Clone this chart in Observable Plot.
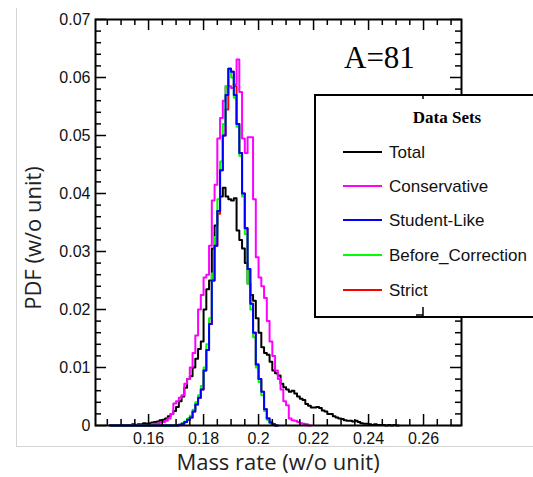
<!DOCTYPE html>
<html>
<head>
<meta charset="utf-8">
<script src="https://cdn.jsdelivr.net/npm/d3@7"></script>
<script src="https://cdn.jsdelivr.net/npm/@observablehq/plot@0.6"></script>
<style>
  body { margin: 0; background: #fff; overflow: hidden; }
  #wrap { position: relative; width: 533px; height: 477px; overflow: hidden; background: #fff; }
  #border { position: absolute; left: 16px; top: 8px; width: 520px; height: 438px;
            border-left: 1px solid #d4d4d4; border-bottom: 1px solid #d4d4d4; }
  #chart { position: absolute; left: 0; top: 0; }
</style>
</head>
<body>
<div id="wrap"><div id="border"></div><div id="chart"></div></div>
<script>
// ---- Data (bins of width 0.001 starting at 0.146) ----
const binStart = 0.146;
const binWidth = 0.001;

const total = [
  0.0001,0.0000,0.0001,0.0001,0.0001,0.0000,0.0001,0.0001,0.0002,0.0001,
  0.0002,0.0002,0.0004,0.0003,0.0004,0.0005,0.0006,0.0007,0.0009,0.0010,
  0.0012,0.0016,0.0020,0.0025,0.0032,0.0042,0.0050,0.0065,0.0080,0.0085,
  0.0100,0.0115,0.0132,0.0145,0.0200,0.0235,0.0250,0.0305,0.0345,0.0370,
  0.0395,0.0410,0.0395,0.0390,0.0388,0.0392,0.0336,0.0320,0.0305,0.0280,
  0.0245,0.0225,0.0215,0.0185,0.0160,0.0135,0.0125,0.0122,0.0110,0.0095,
  0.0090,0.0086,0.0072,0.0066,0.0062,0.0058,0.0060,0.0055,0.0050,0.0046,
  0.0044,0.0037,0.0034,0.0031,0.0031,0.0032,0.0030,0.0026,0.0024,0.0020,
  0.0020,0.0016,0.0014,0.0012,0.0011,0.0009,0.0008,0.0008,0.0007,0.0008,
  0.0006,0.0004,0.0003,0.0003,0.0002,0.0001,0.0002,0.0001,0.0001,0.0001,
  0.0000,0.0001,0.0000,0.0001,0.0000
];

const conservative = [
  0,0,0,0,0,0,0,0,0,0,
  0,0,0,0,0,0.0002,0.0003,0.0003,0.0005,0.0006,
  0.0008,0.0012,0.0020,0.0038,0.0042,0.0048,0.0052,0.0072,0.0080,0.0100,
  0.0125,0.0155,0.0200,0.0225,0.0255,0.0260,0.0310,0.0388,0.0415,0.0495,
  0.0530,0.0560,0.0585,0.0585,0.0582,0.0588,0.0631,0.0575,0.0495,0.0470,
  0.0497,0.0497,0.0390,0.0290,0.0255,0.0240,0.0220,0.0180,0.0145,0.0120,
  0.0095,0.0080,0.0062,0.0042,0.0035,0.0012,0.0009,0.0008,0.0006,0.0004,
  0.0003,0.0002,0
];

const studentLike = [
  0,0,0,0,0,0,0,0,0,0,
  0,0,0,0,0,0,0,0,0,0,
  0,0,0,0,0,0.0001,0.0003,0.0006,0.0010,0.0014,
  0.0024,0.0036,0.0048,0.0062,0.0095,0.0130,0.0175,0.0250,0.0310,0.0370,
  0.0440,0.0500,0.0570,0.0615,0.0610,0.0570,0.0520,0.0470,0.0400,0.0340,
  0.0270,0.0210,0.0160,0.0105,0.0080,0.0058,0.0028,0.0012,0.0005,0.0002,
  0
];

const beforeCorrection = [
  0,0,0,0,0,0,0,0,0,0,
  0,0,0,0,0,0,0,0,0,0,
  0,0,0,0,0.0001,0.0002,0.0004,0.0007,0.0012,0.0017,
  0.0027,0.0040,0.0052,0.0068,0.0100,0.0140,0.0185,0.0262,0.0325,0.0390,
  0.0455,0.0520,0.0585,0.0615,0.0600,0.0565,0.0515,0.0465,0.0395,0.0330,
  0.0245,0.0200,0.0152,0.0100,0.0075,0.0052,0.0025,0.0010,0.0004,0.0001,
  0
];

const strict = [
  0,0,0,0,0,0,0,0,0,0,
  0,0,0,0,0,0,0,0,0,0,
  0,0,0,0,0,0.0001,0.0003,0.0006,0.0010,0.0014,
  0.0024,0.0036,0.0048,0.0062,0.0095,0.0130,0.0175,0.0250,0.0310,0.0365,
  0.0440,0.0500,0.0545,0.0615,0.0610,0.0585,0.0520,0.0470,0.0400,0.0340,
  0.0270,0.0210,0.0160,0.0105,0.0080,0.0058,0.0028,0.0012,0.0005,0.0002,
  0
];

const seriesNames  = ["Total", "Conservative", "Student-Like", "Before_Correction", "Strict"];
const seriesColors = ["#000000", "#ff00ff", "#0000ff", "#00ff00", "#ff0000"];

const xTicks = [0.16, 0.18, 0.20, 0.22, 0.24, 0.26];
const xTickLabels = ["0.16", "0.18", "0.2", "0.22", "0.24", "0.26"];
const xMinorTicks = [0.145,0.15,0.155,0.165,0.17,0.175,0.185,0.19,0.195,0.205,0.21,0.215,0.225,0.23,0.235,0.245,0.25,0.255,0.265,0.27];
const yTicks = [0, 0.01, 0.02, 0.03, 0.04, 0.05, 0.06, 0.07];
const yTickLabels = ["0", "0.01", "0.02", "0.03", "0.04", "0.05", "0.06", "0.07"];
const yMinorTicks = [0.002,0.004,0.006,0.008,0.012,0.014,0.016,0.018,0.022,0.024,0.026,0.028,
  0.032,0.034,0.036,0.038,0.042,0.044,0.046,0.048,0.052,0.054,0.056,0.058,0.062,0.064,0.066,0.068];

const xLabel = "Mass rate (w/o unit)";
const yLabel = "PDF (w/o unit)";
const annotation = "A=81";
const legendTitle = "Data Sets";

// ---- Helpers ----
function steps(vals) {
  const pts = vals.map((v, i) => ({x: binStart + i * binWidth, y: v}));
  pts.push({x: binStart + vals.length * binWidth, y: vals[vals.length - 1]});
  return pts;
}

const W = 533, H = 477;
const mL = 95, mR = 72, mT = 19, mB = 52;
const plotW = W - mL - mR, plotH = H - mT - mB;
const majorLen = 11, minorLen = 6;

const lineOf = (vals, color) => Plot.line(steps(vals), {
  x: "x", y: "y", curve: "step-after", stroke: color, strokeWidth: 2
});

const chart = Plot.plot({
  width: W, height: H,
  marginLeft: mL, marginRight: mR, marginTop: mT, marginBottom: mB,
  x: {domain: [0.1407, 0.2738]},
  y: {domain: [0, 0.07]},
  style: {fontFamily: "'Liberation Sans', Arial, sans-serif", fontSize: "16px", color: "#000", background: "transparent", overflow: "hidden"},
  marks: [
    lineOf(total, seriesColors[0]),
    lineOf(conservative, seriesColors[1]),
    lineOf(strict, seriesColors[4]),
    lineOf(beforeCorrection, seriesColors[3]),
    lineOf(studentLike, seriesColors[2]),
    Plot.frame({stroke: "#000", strokeWidth: 2}),
    Plot.tickX(xTicks, {x: d => d, insetTop: plotH - majorLen, stroke: "#000", strokeWidth: 1.5}),
    Plot.tickX(xMinorTicks, {x: d => d, insetTop: plotH - minorLen, stroke: "#000", strokeWidth: 1.5}),
    Plot.tickX(xTicks, {x: d => d, insetBottom: plotH - majorLen, stroke: "#000", strokeWidth: 1.5}),
    Plot.tickX(xMinorTicks, {x: d => d, insetBottom: plotH - minorLen, stroke: "#000", strokeWidth: 1.5}),
    Plot.tickY(yTicks, {y: d => d, insetRight: plotW - majorLen, stroke: "#000", strokeWidth: 1.5}),
    Plot.tickY(yMinorTicks, {y: d => d, insetRight: plotW - minorLen, stroke: "#000", strokeWidth: 1.5}),
    Plot.tickY(yTicks, {y: d => d, insetLeft: plotW - majorLen, stroke: "#000", strokeWidth: 1.5}),
    Plot.tickY(yMinorTicks, {y: d => d, insetLeft: plotW - minorLen, stroke: "#000", strokeWidth: 1.5}),
    Plot.axisX(xTicks, {tickSize: 0, tickPadding: 7, label: null,
      tickFormat: d => xTickLabels[xTicks.indexOf(d)], fill: "#111"}),
    Plot.axisY(yTicks, {tickSize: 0, tickPadding: 5, label: null,
      tickFormat: d => yTickLabels[yTicks.indexOf(d)], fill: "#111"})
  ]
});

document.getElementById("chart").appendChild(chart);

// ---- Annotations, axis titles and legend ----
const svg = d3.select(chart);

svg.append("text")
  .attr("x", 278).attr("y", 470)
  .attr("text-anchor", "middle")
  .style("font-family", "'Open Sans', sans-serif").style("font-size", "22px").style("fill", "#222")
  .text(xLabel);

svg.append("text")
  .attr("transform", "translate(41,238) rotate(-90)")
  .attr("text-anchor", "middle")
  .style("font-family", "'Open Sans', sans-serif").style("font-size", "22px").style("fill", "#222")
  .text(yLabel);

svg.append("text")
  .attr("x", 344).attr("y", 68)
  .attr("text-anchor", "start")
  .style("font-family", "'Liberation Serif', 'Times New Roman', serif").style("font-size", "31px").style("fill", "#000")
  .text(annotation);

const lg = svg.append("g");
lg.append("rect")
  .attr("x", 315).attr("y", 95).attr("width", 218).attr("height", 222)
  .attr("fill", "#fff").attr("stroke", "none");
lg.append("path")
  .attr("d", "M533,95 H315 V317 H533")
  .attr("fill", "none").attr("stroke", "#000").attr("stroke-width", 2);
lg.append("line").attr("x1", 423).attr("x2", 423).attr("y1", 96).attr("y2", 99).attr("stroke", "#000").attr("stroke-width", 1.5);
lg.append("line").attr("x1", 423).attr("x2", 423).attr("y1", 307).attr("y2", 316).attr("stroke", "#000").attr("stroke-width", 1.5);
lg.append("line").attr("x1", 416).attr("x2", 423).attr("y1", 315).attr("y2", 315).attr("stroke", "#000").attr("stroke-width", 1.5);
lg.append("text")
  .attr("x", 447).attr("y", 123).attr("text-anchor", "middle")
  .style("font-family", "'Liberation Serif', 'Times New Roman', serif").style("font-size", "17px").style("font-weight", "bold")
  .text(legendTitle);

const rowY = [152, 186, 220, 255, 290];
seriesNames.forEach((name, i) => {
  lg.append("line")
    .attr("x1", 343).attr("x2", 382).attr("y1", rowY[i]).attr("y2", rowY[i])
    .attr("stroke", seriesColors[i]).attr("stroke-width", 2.2);
  lg.append("text")
    .attr("x", 389).attr("y", rowY[i] + 6)
    .attr("text-anchor", "start")
    .style("font-family", "'Liberation Sans', Arial, sans-serif").style("font-size", "17px").style("fill", "#111")
    .text(name);
});
</script>
</body>
</html>
